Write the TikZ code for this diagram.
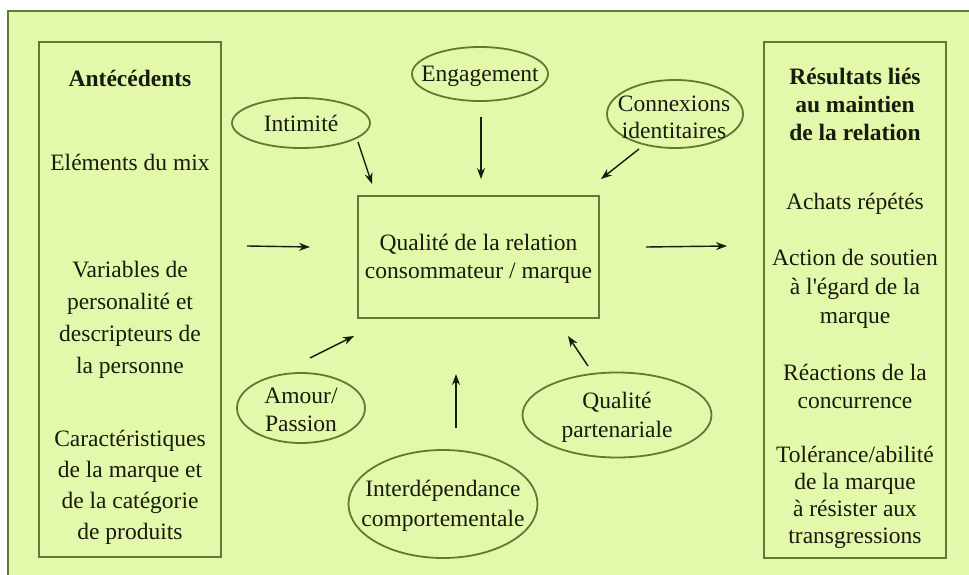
\documentclass[tikz,border=0pt]{standalone}
\usepackage{fontspec}
\setmainfont{Liberation Serif}
\usetikzlibrary{shapes.geometric,arrows.meta,calc}
\definecolor{panel}{HTML}{E3F8AA}
\definecolor{rim}{HTML}{5E7B36}
\definecolor{ink}{HTML}{161C0E}
\begin{document}
\begin{tikzpicture}[x=1pt,y=-1pt,
  txt/.style={text=ink, align=center, inner sep=0pt, font=\fontsize{23.5}{#1}\selectfont},
  txt/.default=30,
  btxt/.style={text=ink, align=center, inner sep=0pt, font=\fontsize{23.5}{#1}\selectfont\bfseries},
  btxt/.default=28,
  frame/.style={draw=rim, line width=2pt, rectangle, inner sep=0pt},
  oval/.style={draw=rim, line width=1.8pt, ellipse, inner sep=0pt},
  arr/.style={-{Stealth[length=11pt,width=8pt]}, line width=1.4pt, draw=ink}]

% page and panel
\useasboundingbox (0,0) rectangle (969,575);
\fill[panel] (8,11) rectangle (969,575);
\draw[rim, line width=2pt] (8,575) -- (8,11) -- (969,11);

% side columns and central box
\node[frame, minimum width=182pt, minimum height=515pt] (ante) at (130,299.5) {};
\node[frame, minimum width=182pt, minimum height=516pt] (resu) at (855,300) {};
\node[frame, minimum width=241pt, minimum height=122pt] (core) at (478.5,257) {};

% antecedents
\node[btxt] (anteT) at (130,78) {Antécédents};
\node[txt] (mix) at (130,162) {Eléments du mix};
\node[txt=32] (perso) at (130,320) {Variables de\\personalité et\\descripteurs de\\la personne};
\node[txt=31] (carac) at (130,487) {Caractéristiques\\de la marque et\\de la catégorie\\de produits};

% outcomes
\node[btxt=28] (resuT) at (855,104) {Résultats liés\\au maintien\\de la relation};
\node[txt] (achat) at (855,204) {Achats répétés};
\node[txt=29] (soutien) at (855,289) {Action de soutien\\à l\textquotesingle égard de la\\marque};
\node[txt=28] (reac) at (855,386) {Réactions de la\\concurrence};
\node[txt=27] (toler) at (855,497) {Tolérance/abilité\\de la marque\\à résister aux\\transgressions};

% central construct
\node[txt=28] (coreT) at (478.5,259) {Qualité de la relation\\consommateur / marque};

% facets
\node[oval, minimum width=138pt, minimum height=50pt] (intim) at (301,123) {};
\node[txt] (intimT) at (intim.center) {Intimité};
\node[oval, minimum width=136pt, minimum height=54pt] (engag) at (480,74) {};
\node[txt] (engagT) at (480,76) {Engagement};
\node[oval, minimum width=136pt, minimum height=68pt] (conn) at (675,114) {};
\node[txt=27] (connT) at (674,117) {Connexions\\identitaires};
\node[oval, minimum width=128pt, minimum height=70pt] (amour) at (301,408) {};
\node[txt=28] (amourT) at (301,410) {Amour/\\Passion};
\node[oval, minimum width=189pt, minimum height=108pt] (inter) at (443,504) {};
\node[txt=30] (interT) at (443,506) {Interdépendance\\comportementale};
\node[oval, minimum width=189pt, minimum height=85pt] (part) at (617,415) {};
\node[txt=29] (partT) at (617,417) {Qualité\\partenariale};

% influences on the central construct
\draw[arr] ($(intim)+(57,19)$) -- ($(core.north west)+(15,-11)$);
\draw[arr] ($(engag)+(1,43)$) -- ($(core.north)+(2.5,-16)$);
\draw[arr] ($(conn)+(-36,35)$) -- ($(core.north east)+(1,-16)$);
\draw[arr] ($(amour)+(9,-50)$) -- ($(core.south west)+(-3,17)$);
\draw[arr] ($(inter)+(13,-76)$) -- ($(core.south)+(-22.5,55)$);
\draw[arr] ($(part)+(-29,-49)$) -- ($(core.south east)+(-32,17)$);

% flow from antecedents to outcomes
\draw[arr] ($(ante.north east)+(25,205)$) -- ($(core.west)+(-47,-10)$);
\draw[arr] ($(core.east)+(46,-10)$) -- ($(resu.north west)+(-36,205)$);
\end{tikzpicture}
\end{document}
